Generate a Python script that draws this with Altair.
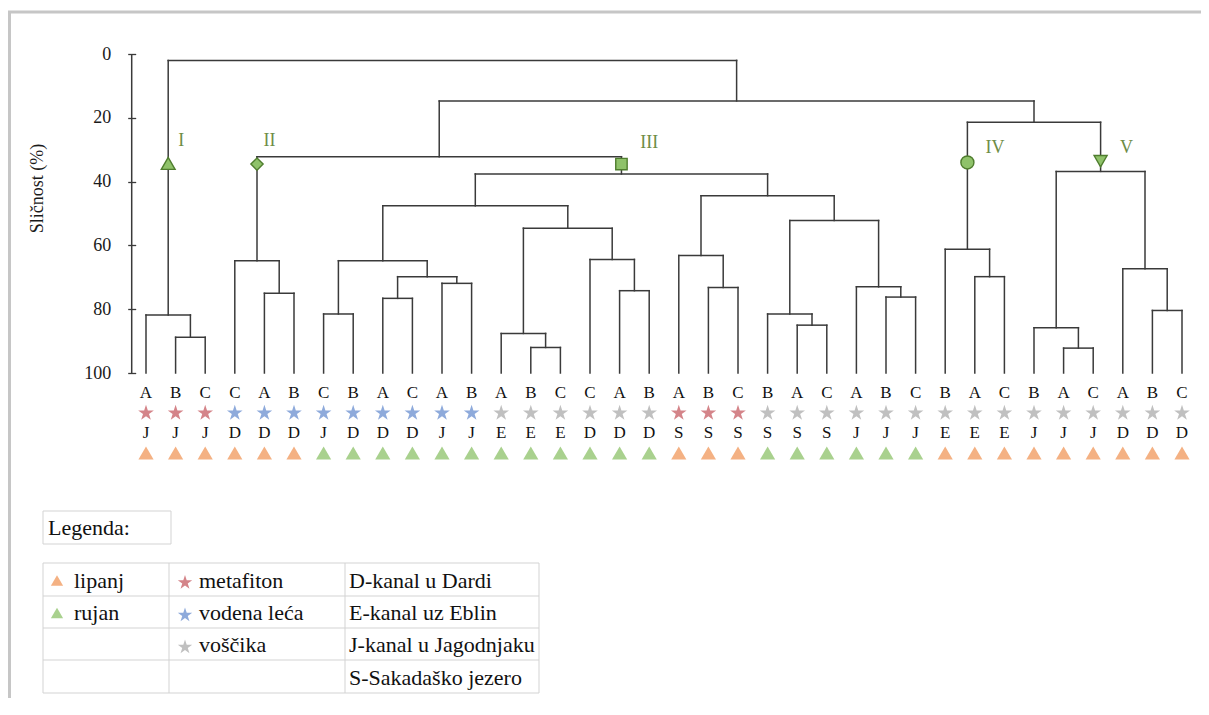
import altair as alt
import pandas as pd

# ---------------- data ----------------
leaf_codes = ["A", "B", "C", "C", "A", "B", "C", "B", "A", "C", "A", "B",
              "A", "B", "C", "C", "A", "B", "A", "B", "C", "B", "A", "C",
              "A", "B", "C", "B", "A", "C", "B", "A", "C", "A", "B", "C"]
leaf_substrate = ["metafiton", "metafiton", "metafiton",
                  "vodena leća", "vodena leća", "vodena leća", "vodena leća", "vodena leća", "vodena leća",
                  "vodena leća", "vodena leća", "vodena leća",
                  "voščika", "voščika", "voščika", "voščika", "voščika", "voščika",
                  "metafiton", "metafiton", "metafiton",
                  "voščika", "voščika", "voščika", "voščika", "voščika", "voščika",
                  "voščika", "voščika", "voščika", "voščika", "voščika", "voščika",
                  "voščika", "voščika", "voščika"]
leaf_site = ["J", "J", "J", "D", "D", "D", "J", "D", "D", "D", "J", "J",
             "E", "E", "E", "D", "D", "D", "S", "S", "S", "S", "S", "S",
             "J", "J", "J", "E", "E", "E", "J", "J", "J", "D", "D", "D"]
leaf_month = ["lipanj", "lipanj", "lipanj", "lipanj", "lipanj", "lipanj",
              "rujan", "rujan", "rujan", "rujan", "rujan", "rujan",
              "rujan", "rujan", "rujan", "rujan", "rujan", "rujan",
              "lipanj", "lipanj", "lipanj",
              "rujan", "rujan", "rujan", "rujan", "rujan", "rujan",
              "lipanj", "lipanj", "lipanj", "lipanj", "lipanj", "lipanj",
              "lipanj", "lipanj", "lipanj"]

# merges (node ids: leaves 0..35, merge k creates node 36+k)
merge_left = [1, 0, 4, 3, 6, 8, 10, 41, 40, 13, 12, 16, 15, 46, 44, 19, 18, 22,
              21, 25, 24, 54, 52, 50, 39, 28, 27, 31, 30, 34, 33, 64, 62, 60, 37]
merge_right = [2, 36, 5, 38, 7, 9, 11, 42, 43, 14, 45, 17, 47, 48, 49, 20, 51, 23,
               53, 26, 55, 56, 57, 58, 59, 29, 61, 32, 63, 35, 65, 66, 67, 68, 69]
merge_height = [88.8, 81.8, 75.0, 64.8, 81.5, 76.6, 71.9, 69.8, 64.8, 92.0, 87.6, 74.2,
                64.4, 54.6, 47.6, 73.2, 63.2, 85.0, 81.5, 76.2, 73.0, 52.2, 44.4, 37.6,
                32.2, 69.8, 61.2, 92.2, 85.8, 80.4, 67.3, 36.8, 21.4, 14.7, 2.0]

cluster_names = ["I", "II", "III", "IV", "V"]
cluster_nodes = [37, 39, 59, 62, 67]
cluster_marker_level = [34.3, 34.5, 34.5, 34.0, 33.6]

y_ticks = [0, 20, 40, 60, 80, 100]
y_title = "Sličnost (%)"

legend_title = "Legenda:"
month_names = ["lipanj", "rujan"]
substrate_names = ["metafiton", "vodena leća", "voščika"]
site_names = ["D-kanal u Dardi", "E-kanal uz Eblin", "J-kanal u Jagodnjaku", "S-Sakadaško jezero"]

# ---------------- styles / layout ----------------
SERIF = "Liberation Serif, Times New Roman, Times, serif"
LINE = "#3a3a3a"
month_color = {"lipanj": "#f4b183", "rujan": "#a9d18e"}
sub_color = {"metafiton": "#d48489", "vodena leća": "#8eaadb", "voščika": "#c0c0c0"}
cluster_shape = ["triangle-up", "diamond", "square", "circle", "triangle-down"]
cluster_size = [190, 150, 130, 170, 170]
cluster_label_dx = [13, 12.5, 27.7, 27.6, 26.0]      # pixels
cluster_label_level = [27.3, 27.3, 28.0, 29.5, 29.5]
STAR = ("M0,-1L0.2245,-0.309L0.9511,-0.309L0.3633,0.118L0.5878,0.809L0,0.382"
        "L-0.5878,0.809L-0.3633,0.118L-0.9511,-0.309L-0.2245,-0.309Z")

W, H = 1193, 690
ORIGIN = 8
LEAF0, STEP = 146.0, 29.6
S0, S100 = 54.0, 373.0
SPX = (S100 - S0) / 100.0


def ux(px):
    return (px - LEAF0) / STEP


def sy(py):
    return (py - S0) / SPX


xscale = alt.Scale(domain=[ux(ORIGIN), ux(ORIGIN + W)], nice=False, zero=False)
yscale = alt.Scale(domain=[sy(ORIGIN), sy(ORIGIN + H)], reverse=True, nice=False, zero=False)

AXIS_TICK_X = 135.7
yaxis = alt.Axis(values=y_ticks, domain=False, grid=False, offset=-(AXIS_TICK_X - ORIGIN),
                 tickSize=8, tickWidth=1.3, tickColor=LINE,
                 labelFont=SERIF, labelFontSize=18, labelColor="#1a1a1a", labelPadding=17,
                 title=y_title, titleFont=SERIF, titleFontSize=18, titleFontWeight="normal",
                 titleColor="#1a1a1a", titleAngle=270, titleX=37.5 - AXIS_TICK_X,
                 titleY=188 - ORIGIN, titleAlign="center", titleBaseline="middle")
X = alt.X("x:Q", scale=xscale, axis=None)
Y = alt.Y("y:Q", scale=yscale, axis=yaxis)

# ---------------- dendrogram geometry ----------------
n_leaf = len(leaf_codes)
pos = {i: float(i) for i in range(n_leaf)}
hgt = {i: 100.0 for i in range(n_leaf)}
segs = []
for k, (a, b, h) in enumerate(zip(merge_left, merge_right, merge_height)):
    n = n_leaf + k
    segs.append(dict(x=pos[a], x2=pos[b], y=h, y2=h))
    segs.append(dict(x=pos[a], x2=pos[a], y=hgt[a], y2=h))
    segs.append(dict(x=pos[b], x2=pos[b], y=hgt[b], y2=h))
    pos[n] = (pos[a] + pos[b]) / 2.0
    hgt[n] = h
seg_df = pd.DataFrame(segs)

dendro = alt.Chart(seg_df).mark_rule(color=LINE, strokeWidth=1.5, strokeCap="square").encode(
    x=X, x2="x2:Q", y=Y, y2="y2:Q")

axis_line = alt.Chart(pd.DataFrame({"x": [ux(131.7)], "y": [0], "y2": [100]})).mark_rule(
    color=LINE, strokeWidth=1.5).encode(x=X, y=Y, y2="y2:Q")

leaf_df = pd.DataFrame({
    "x": list(range(n_leaf)),
    "code": leaf_codes,
    "site": leaf_site,
    "sub_col": [sub_color[s] for s in leaf_substrate],
    "mon_col": [month_color[m] for m in leaf_month],
})

codes_layer = alt.Chart(leaf_df.assign(y=sy(393))).mark_text(
    font=SERIF, fontSize=17, color="#111", baseline="middle", align="center").encode(
    x=X, y=Y, text="code:N")
stars_layer = alt.Chart(leaf_df.assign(y=sy(413))).mark_point(
    shape=STAR, filled=True, size=270, opacity=1).encode(
    x=X, y=Y, color=alt.Color("sub_col:N", scale=None))
sites_layer = alt.Chart(leaf_df.assign(y=sy(433))).mark_text(
    font=SERIF, fontSize=17, color="#111", baseline="middle", align="center").encode(
    x=X, y=Y, text="site:N")
months_layer = alt.Chart(leaf_df.assign(y=sy(453))).mark_point(
    shape="triangle-up", filled=True, size=230, opacity=1).encode(
    x=X, y=Y, color=alt.Color("mon_col:N", scale=None))

# ---------------- cluster markers ----------------
cl_df = pd.DataFrame({
    "name": cluster_names,
    "x": [pos[n] for n in cluster_nodes],
    "y": cluster_marker_level,
    "shape": cluster_shape,
    "sz": cluster_size,
})
cl_markers = alt.Chart(cl_df).mark_point(
    fill="#8fc26a", stroke="#4f7d2e", strokeWidth=1.4, fillOpacity=1, opacity=1).encode(
    x=X, y=Y, shape=alt.Shape("shape:N", scale=None), size=alt.Size("sz:Q", scale=None))
cl_lab_df = pd.DataFrame({
    "name": cluster_names,
    "x": [pos[n] + dx / STEP for n, dx in zip(cluster_nodes, cluster_label_dx)],
    "y": cluster_label_level,
})
cl_labels = alt.Chart(cl_lab_df).mark_text(
    font=SERIF, fontSize=18, color="#6d8c45", align="center", baseline="middle").encode(
    x=X, y=Y, text="name:N")

# ---------------- legend table ----------------
TBL_X = [43, 169, 345, 539]
TBL_Y = [563, 596, 628, 660, 693]
grid = []
for py in TBL_Y:
    grid.append(dict(x=ux(TBL_X[0]), x2=ux(TBL_X[-1]), y=sy(py), y2=sy(py)))
for px in TBL_X:
    grid.append(dict(x=ux(px), x2=ux(px), y=sy(TBL_Y[0]), y2=sy(TBL_Y[-1])))
grid_layer = alt.Chart(pd.DataFrame(grid)).mark_rule(color="#d3d3d3", strokeWidth=1).encode(
    x=X, x2="x2:Q", y=Y, y2="y2:Q")

box_layer = alt.Chart(pd.DataFrame({"x": [ux(43)], "x2": [ux(171)], "y": [sy(511)], "y2": [sy(544)]})).mark_rect(
    fill="white", stroke="#d3d3d3", strokeWidth=1).encode(x=X, x2="x2:Q", y=Y, y2="y2:Q")

row_mid = [(TBL_Y[i] + TBL_Y[i + 1]) / 2 + 1 for i in range(len(TBL_Y) - 1)]
texts = [dict(t=legend_title, x=ux(48), y=sy(528))]
for i, m in enumerate(month_names):
    texts.append(dict(t=m, x=ux(74), y=sy(row_mid[i])))
for i, s in enumerate(substrate_names):
    texts.append(dict(t=s, x=ux(199), y=sy(row_mid[i])))
for i, s in enumerate(site_names):
    texts.append(dict(t=s, x=ux(349), y=sy(row_mid[i])))
leg_text = alt.Chart(pd.DataFrame(texts)).mark_text(
    font=SERIF, fontSize=22, color="#111", align="left", baseline="middle").encode(
    x=X, y=Y, text="t:N")

leg_tri = alt.Chart(pd.DataFrame({
    "x": [ux(57)] * len(month_names),
    "y": [sy(row_mid[i]) for i in range(len(month_names))],
    "c": [month_color[m] for m in month_names]})).mark_point(
    shape="triangle-up", filled=True, size=150, opacity=1).encode(
    x=X, y=Y, color=alt.Color("c:N", scale=None))
leg_star = alt.Chart(pd.DataFrame({
    "x": [ux(185)] * len(substrate_names),
    "y": [sy(row_mid[i] + 2) for i in range(len(substrate_names))],
    "c": [sub_color[s] for s in substrate_names]})).mark_point(
    shape=STAR, filled=True, size=230, opacity=1).encode(
    x=X, y=Y, color=alt.Color("c:N", scale=None))

# ---------------- frame ----------------
one = pd.DataFrame({"k": [0]})
frame_top = alt.Chart(one).mark_rule(color="#c6c6c6", strokeWidth=3).encode(
    x=alt.value(0), x2=alt.value(W), y=alt.value(4))
frame_left = alt.Chart(one).mark_rule(color="#c6c6c6", strokeWidth=3).encode(
    x=alt.value(1.5), y=alt.value(3), y2=alt.value(H))

chart = alt.layer(
    frame_top, frame_left,
    dendro, axis_line, cl_markers, cl_labels,
    codes_layer, stars_layer, sites_layer, months_layer,
    box_layer, grid_layer, leg_text, leg_tri, leg_star,
).properties(
    width=W, height=H, padding=0,
    autosize=alt.AutoSizeParams(type="none"),
    background="white",
).configure_view(stroke=None)

chart.save("out.html", embed_options={"renderer": "svg", "actions": False})
